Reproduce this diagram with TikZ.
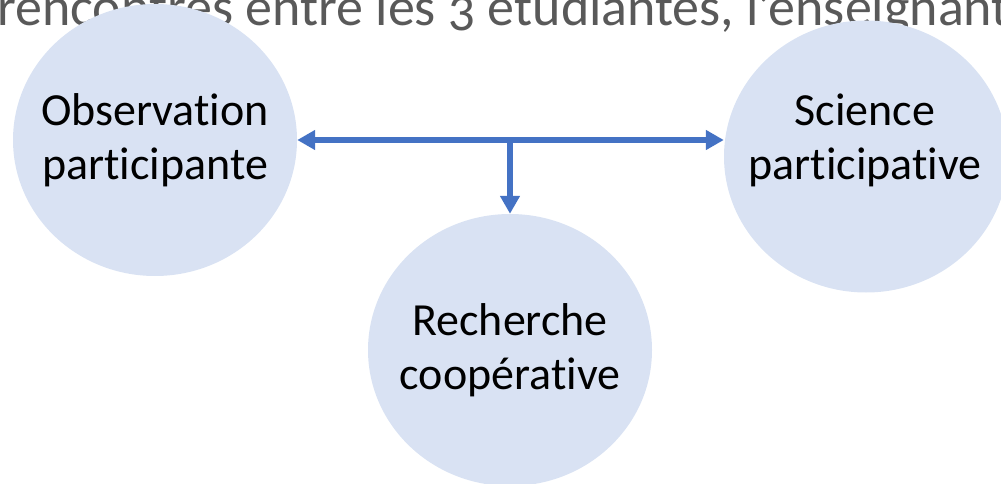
\documentclass[tikz,border=0pt]{standalone}
\usepackage{fontspec}
\setmainfont[Ligatures=CommonOff]{Carlito}
\newfontfamily\titlefont[Numbers=OldStyle,Ligatures=CommonOff]{Carlito}
\usetikzlibrary{shapes.geometric,arrows.meta}
\definecolor{bubble}{HTML}{D9E2F3}
\definecolor{link}{HTML}{4472C4}
\definecolor{titlegray}{HTML}{595959}
\tikzset{
  bubble/.style={ellipse, fill=bubble, draw=none, minimum width=284pt, minimum height=272pt, inner sep=0pt},
  bubbletext/.style={align=center, text=black, font=\fontsize{46}{54}\selectfont, inner sep=0pt},
  linkarrow/.style={draw=link, line width=6pt, arrows={-Triangle[length=18pt,width=19pt]}},
  linkboth/.style={draw=link, line width=6pt, arrows={Triangle[length=18pt,width=19pt]-Triangle[length=18pt,width=19pt]}}
}
\begin{document}
\begin{tikzpicture}[x=1pt,y=-1pt]
\useasboundingbox (0,0) rectangle (1001,484);
\clip (0,0) rectangle (1001,484);
% title line (partly hidden)
\node[anchor=base west, inner sep=0pt, text=titlegray, font=\titlefont\fontsize{54}{60}\selectfont] (title) at (-3,26) {rencontres entre les 3 étudiantes, l’enseignant};
% bubbles
\node[bubble] (L) at (155,140) {};
\node[bubble] (R) at (866,156.5) {};
\node[bubble] (C) at (510,350) {};
% texts
\node[bubbletext] (Lt) at (155,140) {Observation\\participante};
\node[bubbletext] (Rt) at (865,140) {Science\\participative};
\node[bubbletext] (Ct) at (510,350) {Recherche\\coopérative};
% connectors
\coordinate (J) at (C.north |- L.east);
\draw[linkboth] (L.east) -- (L.east -| R.west);
\draw[linkarrow] (J) -- (C.north);
\end{tikzpicture}
\end{document}
